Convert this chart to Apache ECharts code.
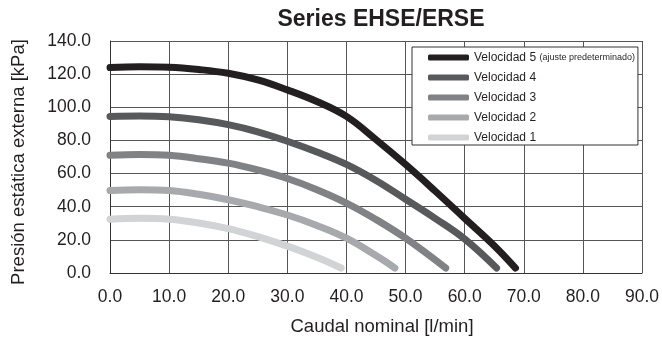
<!DOCTYPE html>
<html>
<head>
<meta charset="utf-8">
<script src="https://cdn.jsdelivr.net/npm/echarts@6/dist/echarts.min.js"></script>
<style>
html,body{margin:0;padding:0;background:#fff;}
#chart{width:662px;height:339px;}
</style>
</head>
<body>
<div id="chart"></div>
<script>
// Data: [caudal l/min, presión kPa]
const seriesNames = [
  'Velocidad 5 (ajuste predeterminado)',
  'Velocidad 4',
  'Velocidad 3',
  'Velocidad 2',
  'Velocidad 1'
];
const vel5 = [[0,124],[5,124.5],[10,124.2],[15,122.8],[20,120.5],[25,116.5],[30,110.5],[35,103.5],[40,94.5],[45,80.5],[50,65.5],[55,49.5],[60,33],[65,16.5],[68.6,3]];
const vel4 = [[0,94.5],[5,94.8],[10,94.3],[15,92.5],[20,89.5],[25,85.2],[30,79.5],[35,73],[40,65.5],[45,55.8],[50,44.5],[55,33],[60,20.5],[65.4,3]];
const vel3 = [[0,71],[5,71.5],[10,71],[15,69],[20,66.3],[25,62.2],[30,57],[35,50.3],[40,42.2],[45,32.3],[50,21],[56.8,3]];
const vel2 = [[0,49.8],[5,50.3],[10,49.8],[15,47.5],[20,44.2],[25,40],[30,35],[35,28.7],[40,21],[45,10.5],[48.2,3]];
const vel1 = [[0,32.5],[5,33],[10,32.4],[15,30.2],[20,26.8],[25,22],[30,16.2],[35,9.5],[39.1,3]];
const seriesData = [vel5, vel4, vel3, vel2, vel1];
const seriesColors = ['#231f20', '#58595b', '#808285', '#a7a9ac', '#d1d3d4'];
const xTicks = { min: 0, max: 90, interval: 10 };
const yTicks = { min: 0, max: 140, interval: 20 };

const FONT = 'Arial, "Liberation Sans", sans-serif';
const TXT = '#231f20';

const chart = echarts.init(document.getElementById('chart'), null, { renderer: 'canvas' });
chart.setOption({
  animation: false,
  backgroundColor: '#fff',
  title: {
    text: 'Series EHSE/ERSE',
    left: 376,
    top: 3,
    textAlign: 'center',
    textStyle: { fontFamily: FONT, fontSize: 23, fontWeight: 'bold', color: TXT }
  },
  legend: {
    orient: 'vertical',
    left: 412,
    top: 47,
    data: seriesNames,
    icon: 'roundRect',
    itemWidth: 41,
    itemHeight: 6,
    itemGap: 7,
    padding: [4, 3, 1, 16],
    borderColor: '#333',
    borderWidth: 1,
    backgroundColor: '#fff',
    formatter: function (name) {
      const i = name.indexOf(' (');
      if (i < 0) return name;
      return name.slice(0, i) + ' {s|' + name.slice(i + 1) + '}';
    },
    textStyle: {
      fontFamily: FONT, fontSize: 12, color: TXT, lineHeight: 13,
      rich: { s: { fontFamily: FONT, fontSize: 9, color: TXT, lineHeight: 13 } }
    }
  },
  grid: { left: 110, right: 20, top: 41, bottom: 66, outerBoundsMode: 'none', containLabel: false },
  xAxis: {
    type: 'value',
    min: xTicks.min, max: xTicks.max, interval: xTicks.interval,
    name: 'Caudal nominal [l/min]',
    nameLocation: 'middle',
    nameGap: 44,
    nameTextStyle: { fontFamily: FONT, fontSize: 18.5, color: TXT, padding: [0, 0, 0, 12] },
    axisLine: { show: true, lineStyle: { color: '#333', width: 1 } },
    axisTick: { show: false },
    axisLabel: { margin: 15, fontFamily: FONT, fontSize: 17.5, color: TXT, formatter: v => v.toFixed(1) },
    splitLine: { show: true, lineStyle: { color: '#555', width: 1 } }
  },
  yAxis: {
    type: 'value',
    min: yTicks.min, max: yTicks.max, interval: yTicks.interval,
    name: 'Presión estática externa [kPa]',
    nameLocation: 'middle',
    nameGap: 82,
    nameTextStyle: { fontFamily: FONT, fontSize: 18.5, color: TXT, padding: [0, 10, 0, 0] },
    axisLine: { show: true, lineStyle: { color: '#333', width: 1 } },
    axisTick: { show: false },
    axisLabel: { margin: 19, fontFamily: FONT, fontSize: 17.5, color: TXT, formatter: v => v.toFixed(1) },
    splitLine: { show: true, lineStyle: { color: '#555', width: 1 } }
  },
  series: seriesNames.map((n, i) => ({
    name: n,
    type: 'line',
    data: seriesData[i],
    smooth: 0.4,
    symbol: 'none',
    color: seriesColors[i],
    lineStyle: { color: seriesColors[i], width: 7, cap: 'round', join: 'round' },
    z: 10 - i
  }))
});
</script>
</body>
</html>
